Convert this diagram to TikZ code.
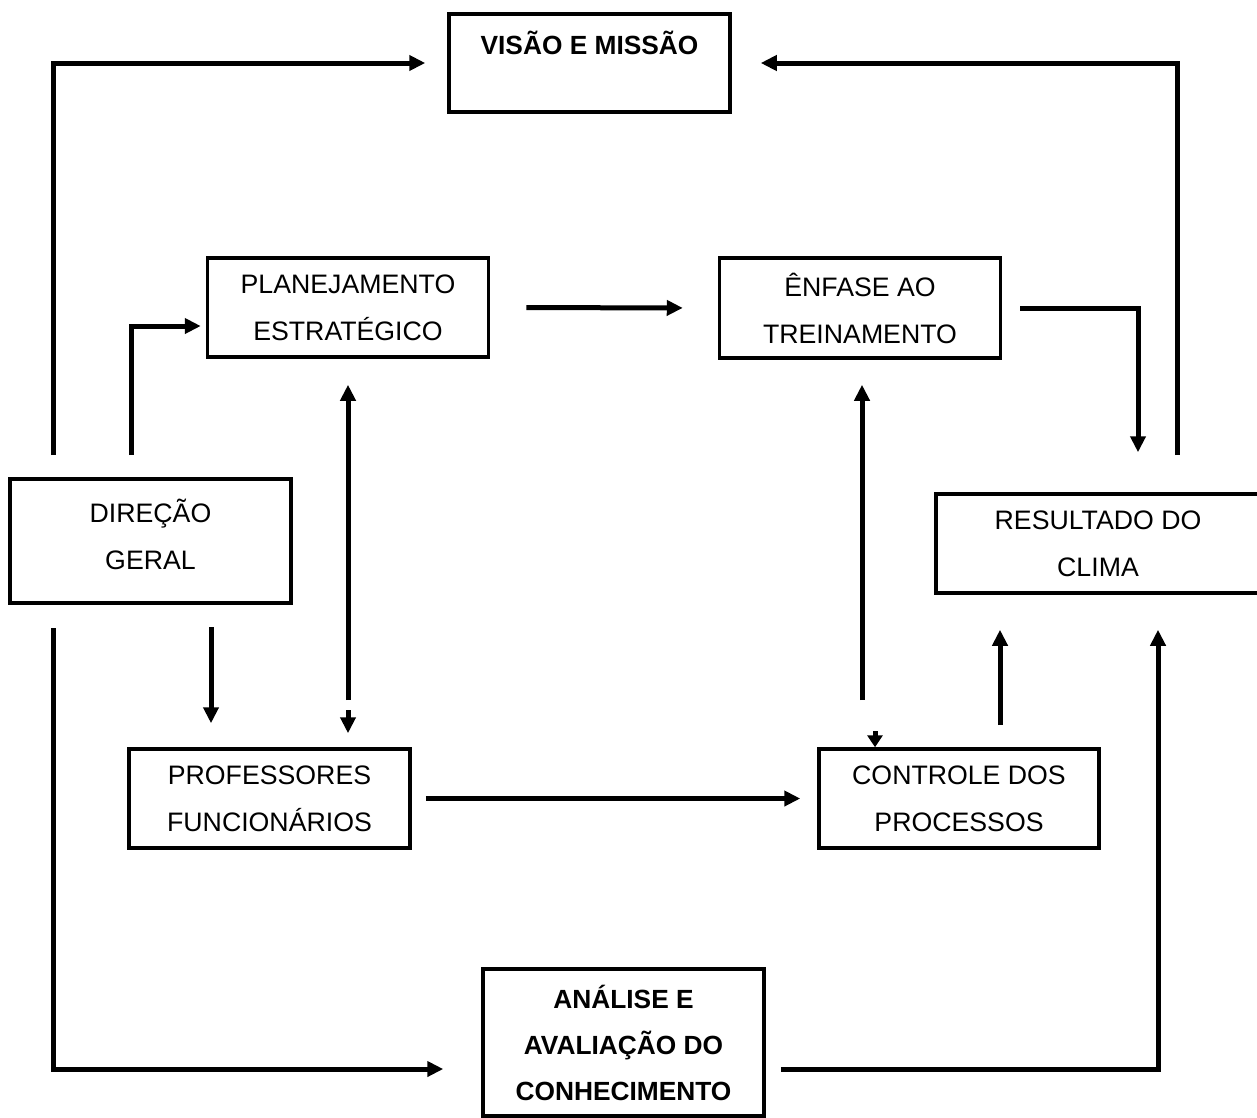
\documentclass[tikz,border=0pt]{standalone}
\usepackage{fontspec}
\setmainfont{Liberation Sans}
\usetikzlibrary{arrows.meta}
\begin{document}
\begin{tikzpicture}[x=1pt,y=-1pt,
  box/.style={draw, line width=3.5pt, minimum width=281pt, inner sep=0pt, align=center, font=\fontsize{26.7}{47}\selectfont},
  txt/.style={inner sep=0pt, align=center, font=\fontsize{26.7}{47}\selectfont},
  boldtxt/.style={inner sep=0pt, align=center, font=\bfseries\fontsize{26.3}{46}\selectfont},
  conn/.style={line width=5pt, -{Triangle[length=16pt,width=15pt]}},
  shortconn/.style={line width=5pt, -{Triangle[length=12pt,width=15pt]}}]
\useasboundingbox (0,0) rectangle (1257,1117);

% boxes
\node[box, minimum height=98pt] (vm) at (589.5,63) {};
\node[boldtxt] at ([yshift=20pt]vm.center) {VISÃO E MISSÃO};
\node[box, minimum height=99pt] (pe) at (348,307.5) {PLANEJAMENTO\\ESTRATÉGICO};
\node[box, minimum height=100pt] (et) at (860,308) {ÊNFASE AO\\TREINAMENTO};
\node[box, minimum height=124pt] (dg) at (150.5,541) {};
\node[txt] at ([yshift=7pt]dg.center) {DIREÇÃO\\GERAL};
\node[box, minimum width=324pt, minimum height=99pt] (rc) at (1098,543.5) {RESULTADO DO\\CLIMA};
\node[box, minimum height=99pt] (pf) at (269.5,798.5) {PROFESSORES\\FUNCIONÁRIOS};
\node[box, minimum width=280pt, minimum height=99pt] (cp) at (959,798.5) {CONTROLE DOS\\PROCESSOS};
\node[box, minimum height=147pt, font=\bfseries\fontsize{26.3}{46}\selectfont] (ak) at (623.5,1042.5) {ANÁLISE E\\AVALIAÇÃO DO\\CONHECIMENTO};

% free ends
\coordinate (c1) at (53.5,455);
\coordinate (c2) at (1177,455);
\coordinate (c3) at (131.5,455);
\coordinate (c6) at (348,700);
\coordinate (c7) at (348,710);
\coordinate (c8) at (211,627);
\coordinate (c9) at (862,700);
\coordinate (c10) at (875,731);
\coordinate (c11) at (1000,725);
\coordinate (c12) at (53.5,628);

% connectors
\draw[conn, shorten >=22pt] (c1) |- (vm.west);
\draw[conn, shorten >=29pt] (c2) |- (vm.east);
\draw[conn, shorten >=5pt] (c3) |- ([yshift=-18.5pt]pe.west);
\draw[conn, shorten <=36pt, shorten >=35pt] (pe.east) -- (et.west);
\draw[conn, shorten <=18pt, shorten >=40pt] (et.east) -| ([xshift=40pt]rc.north);
\draw[conn, shorten >=26pt] (c6) -- (c6 |- pe.south);
\draw[conn, shorten >=14pt] (c7) -- (c7 |- pf.north);
\draw[conn, shorten >=24pt] (c8) -- (c8 |- pf.north);
\draw[conn, shorten <=14pt, shorten >=17pt] (pf.east) -- (cp.west);
\draw[conn, shorten >=25pt] (c9) -- (c9 |- et.south);
\draw[shortconn] (c10) -- (c10 |- cp.north);
\draw[conn, shorten >=35pt] (c11) -- (c11 |- rc.south);
\draw[conn, shorten >=38pt] (c12) |- ([yshift=-26.5pt]ak.west);
\draw[conn, shorten <=15pt, shorten >=35pt] ([yshift=-26.5pt]ak.east) -| ([xshift=60pt]rc.south);
\end{tikzpicture}
\end{document}
